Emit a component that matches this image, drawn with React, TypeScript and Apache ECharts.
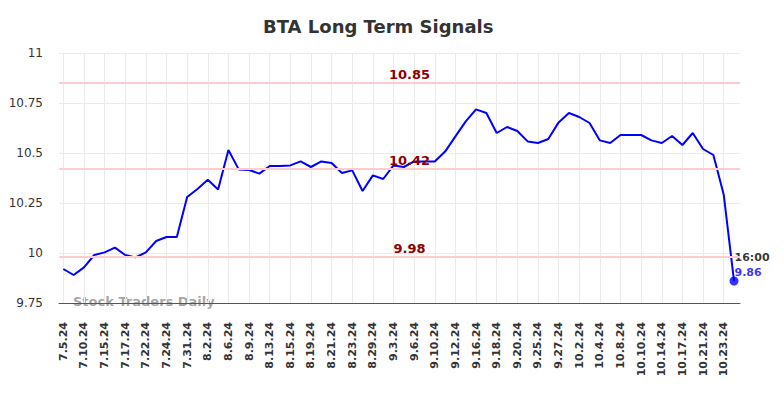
import React, { useEffect, useRef } from 'react';
import * as echarts from 'echarts';

const titleText = 'BTA Long Term Signals';
const watermark = 'Stock Traders Daily';
const closeTime = '16:00';

const tickLabels = [
  '7.5.24', '7.10.24', '7.15.24', '7.17.24', '7.22.24', '7.24.24', '7.31.24', '8.2.24',
  '8.6.24', '8.9.24', '8.13.24', '8.15.24', '8.19.24', '8.21.24', '8.23.24', '8.29.24',
  '9.3.24', '9.6.24', '9.10.24', '9.12.24', '9.16.24', '9.18.24', '9.20.24', '9.25.24',
  '9.27.24', '10.2.24', '10.4.24', '10.8.24', '10.10.24', '10.14.24', '10.17.24', '10.21.24',
  '10.23.24',
];

const prices = [
  9.92, 9.89, 9.928, 9.99, 10.003, 10.027, 9.99, 9.978, 10.003, 10.06,
  10.08, 10.08, 10.28, 10.32, 10.366, 10.318, 10.515, 10.418, 10.415, 10.397,
  10.435, 10.435, 10.438, 10.458, 10.43, 10.458, 10.45, 10.40, 10.413, 10.31,
  10.388, 10.37, 10.438, 10.43, 10.458, 10.458, 10.458, 10.507, 10.583, 10.658,
  10.718, 10.70, 10.60, 10.63, 10.61, 10.558, 10.55, 10.57, 10.653, 10.70,
  10.68, 10.65, 10.563, 10.55, 10.59, 10.59, 10.59, 10.563, 10.55, 10.585,
  10.54, 10.60, 10.52, 10.49, 10.293, 9.86,
];

const signalLevels = [10.85, 10.42, 9.98];
const yTicks = { min: 9.75, max: 11, step: 0.25 };

export default function App() {
  const ref = useRef<HTMLDivElement>(null);
  useEffect(() => {
    document.body.style.margin = '0';
    const chart = echarts.init(ref.current!, null, { renderer: 'svg' });
    const lineData = prices.map((v, i) => [i, v]);
    const lastIdx = prices.length - 1;
    const tickPositions = tickLabels.map((_, k) => k * 2);
    chart.setOption({
      animation: false,
      textStyle: { fontFamily: 'DejaVu Sans' },
      title: {
        text: titleText,
        left: 258,
        top: 12,
        textStyle: { fontSize: 18, fontWeight: 'bold', color: '#333333', fontFamily: 'DejaVu Sans' },
      },
      grid: { left: 59, right: 44, top: 53, bottom: 95, containLabel: false },
      xAxis: {
        type: 'value',
        min: -0.42,
        max: lastIdx + 0.58,
        axisLine: { show: true, onZero: false, lineStyle: { color: '#555555', width: 1 } },
        axisTick: { show: false, customValues: tickPositions },
        splitLine: { show: true, customValues: tickPositions, lineStyle: { color: '#ebebeb', width: 1 } },
        axisLabel: {
          customValues: tickPositions,
          rotate: 90,
          fontSize: 11,
          fontWeight: 'bold',
          color: '#333333',
          margin: 19,
          formatter: (v: number) => tickLabels[Math.round(v / 2)] ?? '',
        },
      },
      yAxis: {
        type: 'value',
        min: yTicks.min,
        max: yTicks.max,
        interval: yTicks.step,
        axisLine: { show: false },
        axisTick: { show: false },
        splitLine: { show: true, lineStyle: { color: '#ebebeb', width: 1 } },
        axisLabel: { fontSize: 12, color: '#333333', margin: 16 },
      },
      graphic: [
        {
          type: 'text',
          left: 73,
          top: 295,
          z: 0,
          style: {
            text: watermark,
            fill: 'rgba(150,150,150,0.85)',
            font: 'bold 13px "DejaVu Sans"',
          },
        },
      ],
      series: [
        {
          type: 'line',
          data: lineData,
          showSymbol: false,
          lineStyle: { color: '#0000ff', width: 2 },
          itemStyle: { color: '#0000ff' },
          z: 3,
          markLine: {
            silent: true,
            symbol: 'none',
            lineStyle: { color: '#ffcccc', width: 2, type: 'solid' },
            label: {
              position: 'middle',
              color: '#8b0000',
              fontWeight: 'bold',
              fontSize: 13,
              offset: [10, 3],
              formatter: (p: any) => String(p.value),
            },
            data: signalLevels.map((v) => ({ yAxis: v })),
          },
        },
        {
          type: 'scatter',
          data: [[lastIdx, prices[lastIdx]]],
          symbol: 'circle',
          symbolSize: 9,
          itemStyle: { color: '#0000ff' },
          z: 4,
          label: {
            show: true,
            position: [5, -27],
            align: 'left',
            verticalAlign: 'top',
            formatter: () => `{t|${closeTime}}\n{v|${prices[lastIdx].toFixed(2)}}`,
            rich: {
              t: { fontSize: 11, fontWeight: 'bold', color: '#000000', lineHeight: 15 },
              v: { fontSize: 11, fontWeight: 'bold', color: '#0000ff', lineHeight: 15 },
            },
          },
        },
      ],
    });
    return () => chart.dispose();
  }, []);
  return <div ref={ref} style={{ width: 784, height: 398 }} />;
}
